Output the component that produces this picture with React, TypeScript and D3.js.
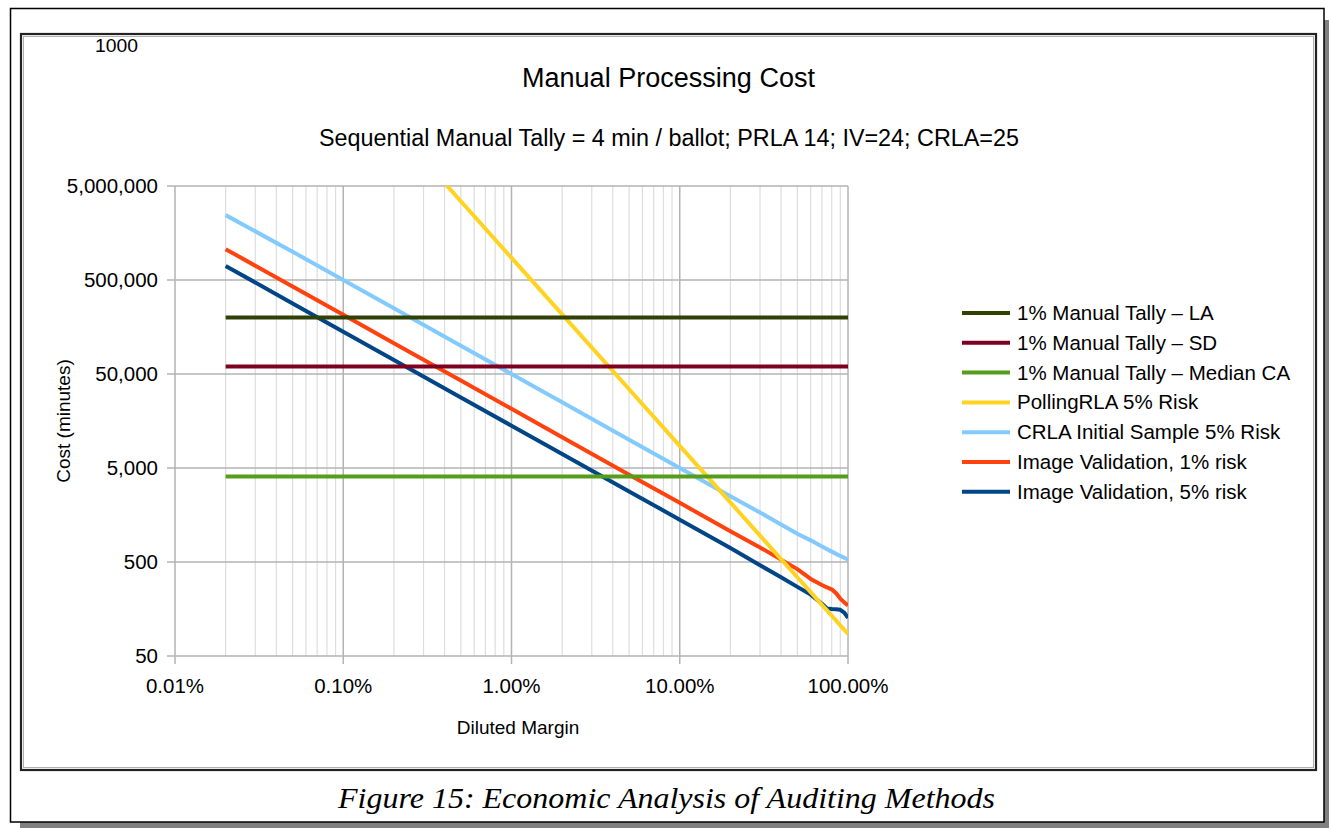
import React from 'react';
import * as d3 from 'd3';

// ---------- data ----------
const margins = [0.0002, 0.0005, 0.001, 0.002, 0.005, 0.01, 0.02, 0.05, 0.1, 0.2, 0.3, 0.4, 0.5, 0.6, 0.7, 0.75, 0.8, 0.85, 0.9, 0.95, 1.0];
const tallyMargins = [0.0002, 1.0];
const tallyLA = [200000, 200000];
const tallySD = [60000, 60000];
const tallyMedianCA = [4050, 4050];
const pollingRLA = [2150000000, 344000000, 86000000, 21500000, 3440000, 860000, 215000, 34400, 8600, 2150, 955, 537, 344, 239, 175, 153, 134, 119, 106, 95, 86];
const crlaInitial = [2450000, 1000000, 500000, 250000, 100000, 50000, 25000, 10000, 5000, 2500, 1680, 1250, 1000, 850, 730, 685, 645, 610, 580, 555, 530];
const imageVal1 = [1065000, 426000, 213000, 106000, 42600, 21300, 10600, 4250, 2130, 1065, 715, 530, 420, 330, 285, 268, 256, 232, 204, 186, 172];
const imageVal5 = [706000, 282000, 141000, 70500, 28200, 14100, 7050, 2820, 1410, 705, 462, 345, 272, 225, 180, 160, 158, 157, 155, 145, 127];

const seriesNames = [
  '1% Manual Tally \u2013 LA',
  '1% Manual Tally \u2013 SD',
  '1% Manual Tally \u2013 Median CA',
  'PollingRLA 5% Risk',
  'CRLA Initial Sample 5% Risk',
  'Image Validation, 1% risk',
  'Image Validation, 5% risk',
];
const seriesColors = ['#314004', '#7e0021', '#579d1c', '#ffd320', '#83caff', '#ff420e', '#004586'];

const yTicks = [50, 500, 5000, 50000, 500000, 5000000];
const yTickLabels = ['50', '500', '5,000', '50,000', '500,000', '5,000,000'];
const xTicks = [0.0001, 0.001, 0.01, 0.1, 1];
const xTickLabels = ['0.01%', '0.10%', '1.00%', '10.00%', '100.00%'];

const title = 'Manual Processing Cost';
const subtitle = 'Sequential Manual Tally = 4 min / ballot; PRLA 14; IV=24; CRLA=25';
const xTitle = 'Diluted Margin';
const yTitle = 'Cost (minutes)';
const strayLabel = '1000';
const caption = 'Figure 15: Economic Analysis of Auditing Methods';

const W = 1329;
const H = 829;
const PL = 175, PR = 848, PT = 186, PB = 656;
const FONT = '"Liberation Sans", Arial, sans-serif';

export default function App() {
  const x = d3.scaleLog().domain([0.0001, 1]).range([PL, PR]);
  const y = d3.scaleLog().domain([50, 5000000]).range([PB, PT]);

  const minor: number[] = [];
  [0.0001, 0.001, 0.01, 0.1].forEach((d) => {
    for (let k = 2; k <= 9; k++) minor.push(d * k);
  });

  const line = d3
    .line<[number, number]>()
    .x((d) => x(d[0]))
    .y((d) => y(d[1]));

  const series: [number, number][][] = [
    tallyMargins.map((m, i) => [m, tallyLA[i]] as [number, number]),
    tallyMargins.map((m, i) => [m, tallySD[i]] as [number, number]),
    tallyMargins.map((m, i) => [m, tallyMedianCA[i]] as [number, number]),
    margins.map((m, i) => [m, pollingRLA[i]] as [number, number]),
    margins.map((m, i) => [m, crlaInitial[i]] as [number, number]),
    margins.map((m, i) => [m, imageVal1[i]] as [number, number]),
    margins.map((m, i) => [m, imageVal5[i]] as [number, number]),
  ];
  const drawOrder = [6, 5, 4, 3, 2, 1, 0];

  const legendX = 962;
  const legendY0 = 313;
  const legendStep = 29.8;

  return (
    <svg
      width={W}
      height={H}
      style={{ position: 'absolute', left: 0, top: 0, background: '#fff' }}
      fontFamily={FONT}
    >
      <defs>
        <clipPath id="plotClip">
          <rect x={PL} y={PT} width={PR - PL} height={PB - PT} />
        </clipPath>
      </defs>
      {/* page frame with shadow */}
      <rect x={20} y={20} width={1309} height={808} fill="#808080" />
      <rect x={10.5} y={8.5} width={1313.5} height={813.5} fill="#fff" stroke="#000" strokeWidth={1.5} />
      {/* chart frame */}
      <rect x={21} y={34} width={1295} height={736} fill="#fff" stroke="#222" strokeWidth={2.2} />
      <rect x={23.5} y={36.5} width={1290} height={731} fill="none" stroke="#b0b0b0" strokeWidth={1} />

      <text x={95} y={52} fontSize={19} fill="#000" textLength={43} lengthAdjust="spacingAndGlyphs">{strayLabel}</text>

      <text x={668.5} y={87} fontSize={27} textAnchor="middle" fill="#000" textLength={293} lengthAdjust="spacingAndGlyphs">{title}</text>
      <text x={669} y={146} fontSize={23} textAnchor="middle" fill="#000" textLength={700} lengthAdjust="spacingAndGlyphs">{subtitle}</text>

      {/* grid */}
      {minor.map((m, i) => (
        <line key={'mn' + i} x1={x(m)} x2={x(m)} y1={PT} y2={PB} stroke="#dddddd" strokeWidth={1.2} />
      ))}
      {xTicks.map((t, i) => (
        <line key={'mx' + i} x1={x(t)} x2={x(t)} y1={PT} y2={PB + 8} stroke="#b3b3b3" strokeWidth={1.5} />
      ))}
      {yTicks.map((t, i) => (
        <line key={'my' + i} x1={PL - 8} x2={PR} y1={y(t)} y2={y(t)} stroke="#b3b3b3" strokeWidth={1.5} />
      ))}

      {/* tick labels */}
      {yTicks.map((t, i) => (
        <text key={'yl' + i} x={158} y={y(t) + 7} fontSize={20.5} textAnchor="end" fill="#000">
          {yTickLabels[i]}
        </text>
      ))}
      {xTicks.map((t, i) => (
        <text key={'xl' + i} x={x(t)} y={693} fontSize={20.5} textAnchor="middle" fill="#000">
          {xTickLabels[i]}
        </text>
      ))}

      <text x={518} y={734} fontSize={19} textAnchor="middle" fill="#000">{xTitle}</text>
      <text
        transform={`translate(70,${(PT + PB) / 2}) rotate(-90)`}
        fontSize={19}
        textAnchor="middle"
        fill="#000"
      >
        {yTitle}
      </text>

      {/* series */}
      <g clipPath="url(#plotClip)">
        {drawOrder.map((si) => (
          <path
            key={'s' + si}
            d={line(series[si]) || ''}
            fill="none"
            stroke={seriesColors[si]}
            strokeWidth={4}
            strokeLinejoin="round"
          />
        ))}
      </g>

      {/* legend */}
      {seriesNames.map((n, i) => {
        const ly = legendY0 + i * legendStep;
        return (
          <g key={'lg' + i}>
            <line x1={legendX} x2={legendX + 48} y1={ly} y2={ly} stroke={seriesColors[i]} strokeWidth={4} />
            <text x={legendX + 55} y={ly + 7} fontSize={20.5} fill="#000">{n}</text>
          </g>
        );
      })}

      <text
        x={666.5}
        y={808}
        fontSize={30}
        fontStyle="italic"
        textAnchor="middle"
        fontFamily='"Liberation Serif", "DejaVu Serif", serif'
        fill="#000"
        textLength={657}
        lengthAdjust="spacingAndGlyphs"
      >
        {caption}
      </text>
    </svg>
  );
}
